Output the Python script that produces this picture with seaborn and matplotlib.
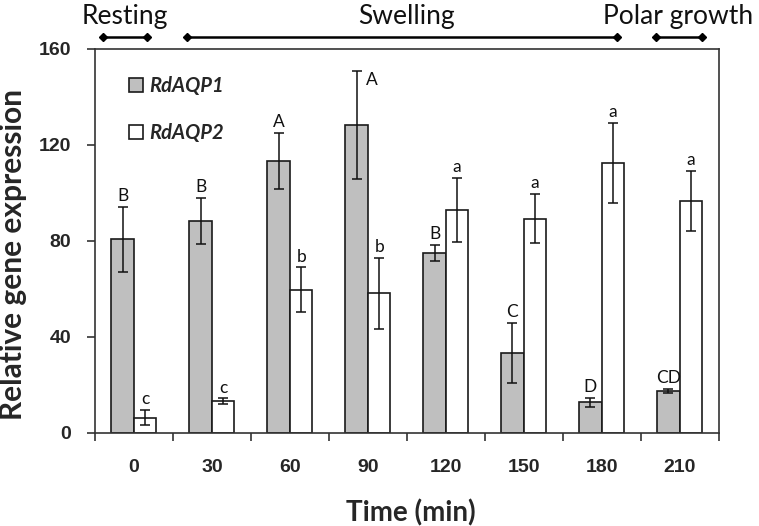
import numpy as np
import pandas as pd
import matplotlib.pyplot as plt
import seaborn as sns

times = ['0', '30', '60', '90', '120', '150', '180', '210']
genes = ['RdAQP1', 'RdAQP2']

aqp1_mean = [80.7, 88.3, 113.4, 128.3, 75.0, 33.3, 12.7, 17.5]
aqp1_err = [13.5, 9.5, 11.6, 22.7, 3.3, 12.6, 2.0, 1.0]
aqp1_letters = ['B', 'B', 'A', 'A', 'B', 'C', 'D', 'CD']

aqp2_mean = [6.3, 13.2, 59.7, 58.2, 92.8, 89.3, 112.4, 96.7]
aqp2_err = [3.2, 1.2, 9.3, 14.8, 13.4, 10.3, 16.7, 12.6]
aqp2_letters = ['c', 'c', 'b', 'b', 'a', 'a', 'a', 'a']

phases = ['Resting', 'Swelling', 'Polar growth']
phase_spans = [(-0.40, 0.17), (0.68, 6.20), (6.69, 7.28)]
phase_text_x = [-0.11, 3.49, 6.98]

df = pd.DataFrame({
    'Time': times * 2,
    'Gene': [genes[0]] * len(times) + [genes[1]] * len(times),
    'Expression': aqp1_mean + aqp2_mean,
})

sns.set_theme(style='white')
plt.rcParams['font.family'] = ['Liberation Sans', 'DejaVu Sans']

fig = plt.figure(figsize=(7.59, 5.26), dpi=100)
ax = fig.add_axes([0.125, 0.177, 0.822, 0.730])

sns.barplot(
    data=df, x='Time', y='Expression', hue='Gene',
    palette=['#bfbfbf', 'white'], width=0.58,
    edgecolor='#1a1a1a', linewidth=1.2, errorbar=None, ax=ax
)

letter_font = dict(family='Lato', fontsize=12.5, color='#111111')
errs = [aqp1_err, aqp2_err]
letters = [aqp1_letters, aqp2_letters]
for ci, cont in enumerate(ax.containers[:2]):
    xs = [b.get_x() + b.get_width() / 2 for b in cont]
    ys = [b.get_height() for b in cont]
    ax.errorbar(xs, ys, yerr=errs[ci], fmt='none', ecolor='#111111',
                elinewidth=1.1, capsize=3.5, capthick=1.1, zorder=5)
    for i, (x, y) in enumerate(zip(xs, ys)):
        top = y + errs[ci][i]
        if ci == 0 and i == 3:
            ax.annotate(letters[ci][i], (x, top), xytext=(11, -1),
                        textcoords='offset points', ha='center', va='top', **letter_font)
        else:
            ax.annotate(letters[ci][i], (x, top), xytext=(0, 2),
                        textcoords='offset points', ha='center', va='bottom', **letter_font)

ax.set_ylim(0, 160)
ax.set_xlim(-0.5, 7.5)
ax.set_yticks([0, 40, 80, 120, 160])
ax.set_xticks(range(len(times)))
ax.set_xticklabels(times)
ax.set_xticks(np.arange(-0.5, len(times), 1), minor=True)
ax.tick_params(axis='x', which='major', length=0, pad=19, labelsize=14)
ax.tick_params(axis='x', which='minor', length=6, width=1.2, direction='out',
               bottom=True, color='#333333')
ax.tick_params(axis='y', length=6, width=1.2, direction='out', left=True,
               pad=11, labelsize=14, color='#333333')
for lab in ax.get_xticklabels() + ax.get_yticklabels():
    lab.set_fontweight('bold')

for s in ax.spines.values():
    s.set_visible(True)
    s.set_color('#333333')
    s.set_linewidth(1.2)

ax.set_xlabel('Time (min)', fontsize=20, fontweight='bold', family='Lato')
ax.set_ylabel('Relative gene expression', fontsize=21.5, fontweight='bold', family='Lato')
ax.xaxis.set_label_coords(0.506, -0.172)
ax.yaxis.set_label_coords(-0.108, 0.465)

leg = ax.legend(loc='upper left', bbox_to_anchor=(0.055, 0.93), frameon=False,
                handlelength=0.68, handleheight=0.68, handletextpad=0.3,
                labelspacing=1.35, borderpad=0, borderaxespad=0,
                prop=dict(family='Lato', weight='bold', style='italic', size=14.5))

for name, (x0, x1), tx in zip(phases, phase_spans, phase_text_x):
    ax.plot([x0, x1], [164.8, 164.8], color='black', lw=1.8, marker='D',
            markersize=4.5, clip_on=False)
    ax.text(tx, 170.5, name, ha='center', va='baseline', fontsize=19,
            family='Lato', color='#111111', clip_on=False)

fig.savefig('out.png', dpi=100)
